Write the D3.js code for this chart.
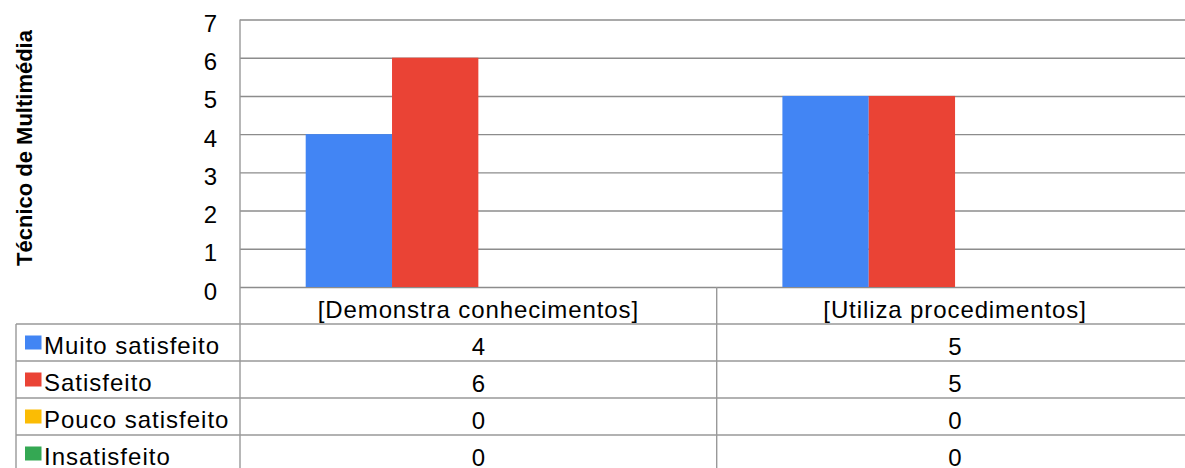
<!DOCTYPE html>
<html>
<head>
<meta charset="utf-8">
<script src="https://cdn.jsdelivr.net/npm/d3@7"></script>
<style>
  body { margin: 0; background: #fff; }
  svg { display: block; font-family: "Liberation Sans", Arial, sans-serif; }
</style>
</head>
<body>
<div id="chart"></div>
<script>
const categories = ["[Demonstra conhecimentos]", "[Utiliza procedimentos]"];
const seriesNames = ["Muito satisfeito", "Satisfeito", "Pouco satisfeito", "Insatisfeito"];
const seriesColors = ["#4285F4", "#EA4335", "#FBBC04", "#34A853"];
const muitoSatisfeito = [4, 5];
const satisfeito = [6, 5];
const poucoSatisfeito = [0, 0];
const insatisfeito = [0, 0];
const yTicks = [0, 1, 2, 3, 4, 5, 6, 7];

const seriesValues = [muitoSatisfeito, satisfeito, poucoSatisfeito, insatisfeito];

const width = 1185, height = 468;
const plotLeft = 240, plotRight = 1193.4;
const plotTop = 19.5, plotBottom = 287;
const tableLeft = 16;
const rowH = 37;
const gridColor = "#8c8c8c";
const tableColor = "#999";
const textColor = "#000";
const fontSize = "24px";

const svg = d3.select("#chart").append("svg")
  .attr("width", width)
  .attr("height", height);

const x = d3.scaleBand()
  .domain(categories)
  .range([plotLeft, plotRight]);

const xs = d3.scaleBand()
  .domain(seriesNames)
  .range([65.7, x.bandwidth() - 65.7]);

const y = d3.scaleLinear()
  .domain([0, 7])
  .range([plotBottom, plotTop]);

// Y axis with gridlines
const yAxis = svg.append("g")
  .attr("transform", `translate(${plotLeft},0)`)
  .call(d3.axisLeft(y)
    .tickValues(yTicks)
    .tickFormat(d3.format("d"))
    .tickSize(-(width - plotLeft))
    .tickPadding(23));

yAxis.select(".domain").remove();
yAxis.selectAll(".tick line")
  .attr("stroke", gridColor)
  .attr("stroke-width", 1.4);
yAxis.selectAll(".tick text")
  .attr("dy", "0.5em")
  .style("font-size", fontSize)
  .style("fill", textColor)
  .style("font-family", "'Liberation Sans', Arial, sans-serif");

// Bars
seriesNames.forEach((name, si) => {
  svg.append("g")
    .selectAll("rect")
    .data(categories.map((c, ci) => ({ cat: c, value: seriesValues[si][ci] })))
    .join("rect")
    .attr("x", d => x(d.cat) + xs(name))
    .attr("y", d => y(d.value))
    .attr("width", xs.bandwidth())
    .attr("height", d => y(0) - y(d.value))
    .attr("fill", seriesColors[si]);
});

// Data table
const table = svg.append("g");
const rowTops = seriesNames.map((d, i) => plotBottom + rowH * (i + 1));

// horizontal row lines
rowTops.forEach(t => {
  table.append("line")
    .attr("x1", tableLeft).attr("x2", width)
    .attr("y1", t).attr("y2", t)
    .attr("stroke", tableColor).attr("stroke-width", 1.4);
});

// vertical lines
table.append("line")
  .attr("x1", tableLeft).attr("x2", tableLeft)
  .attr("y1", rowTops[0]).attr("y2", height)
  .attr("stroke", tableColor).attr("stroke-width", 1.4);

table.append("line")
  .attr("x1", plotLeft).attr("x2", plotLeft)
  .attr("y1", plotTop).attr("y2", height)
  .attr("stroke", tableColor).attr("stroke-width", 1.4);

categories.slice(1).forEach(c => {
  table.append("line")
    .attr("x1", x(c)).attr("x2", x(c))
    .attr("y1", plotBottom).attr("y2", height)
    .attr("stroke", tableColor).attr("stroke-width", 1.4);
});

// category labels
table.selectAll(".cat")
  .data(categories)
  .join("text")
  .attr("x", d => x(d) + x.bandwidth() / 2)
  .attr("y", plotBottom + rowH / 2)
  .attr("dy", "0.52em")
  .attr("text-anchor", "middle")
  .style("font-size", fontSize)
  .style("letter-spacing", "0.9px")
  .style("fill", textColor)
  .text(d => d);

// series rows
seriesNames.forEach((name, si) => {
  const cy = rowTops[si] + rowH / 2;
  table.append("rect")
    .attr("x", 25).attr("y", cy - 7)
    .attr("width", 16.5).attr("height", 14)
    .attr("fill", seriesColors[si]);
  table.append("text")
    .attr("x", 44)
    .attr("y", cy)
    .attr("dy", "0.49em")
    .style("font-size", fontSize)
    .style("letter-spacing", "1px")
    .style("fill", textColor)
    .text(name);
  table.selectAll(null)
    .data(categories.map((c, ci) => ({ cat: c, value: seriesValues[si][ci] })))
    .join("text")
    .attr("x", d => x(d.cat) + x.bandwidth() / 2)
    .attr("y", cy)
    .attr("dy", "0.53em")
    .attr("text-anchor", "middle")
    .style("font-size", fontSize)
    .style("fill", textColor)
    .text(d => d.value);
});

// Y axis title
svg.append("text")
  .attr("transform", "translate(32,148) rotate(-90)")
  .attr("text-anchor", "middle")
  .style("font-size", "22px")
  .style("font-weight", "bold")
  .style("fill", textColor)
  .text("Técnico de Multimédia");
</script>
</body>
</html>
